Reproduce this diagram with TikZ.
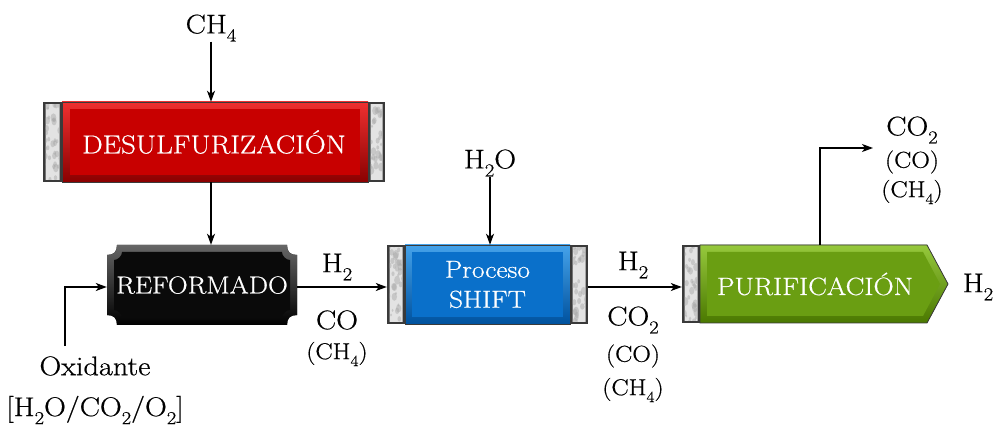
\documentclass[tikz,border=0pt]{standalone}
\usepackage{fontspec}
\setmainfont{Latin Modern Roman}[FakeBold=0.6,FakeStretch=1.12]
\usetikzlibrary{arrows.meta,backgrounds,calc}
\newcommand\sbs[1]{\raisebox{-0.3em}{\scalebox{0.68}{#1}}}
\definecolor{redL}{HTML}{EE3030}
\definecolor{redD}{HTML}{8A0000}
\definecolor{redB}{HTML}{C80000}
\definecolor{bluL}{HTML}{45A2EA}
\definecolor{bluD}{HTML}{00529E}
\definecolor{bluB}{HTML}{0A70CA}
\definecolor{grnL}{HTML}{96C83C}
\definecolor{grnD}{HTML}{4A7800}
\definecolor{grnB}{HTML}{6A9E12}
\definecolor{edge}{HTML}{3A3A3A}
\newcommand\capbox[4]{%
  \fill[edge] (#1,#2) rectangle (#3,#4);
  \begin{scope}
    \clip (#1+2.5,#2+2.5) rectangle (#3-2.5,#4-2.5);
    \fill[gray!22] (#1,#2) rectangle (#3,#4);
    \foreach \k in {1,...,40}{%
      \pgfmathsetmacro\px{#1+rnd*(#3-#1)}%
      \pgfmathsetmacro\py{#2+rnd*(#4-#2)}%
      \pgfmathsetmacro\pr{1+2*rnd}%
      \fill[gray!70,opacity=0.45] (\px,\py) ellipse ({\pr} and {1.5*\pr});
    }
  \end{scope}
}
\begin{document}
\begin{tikzpicture}[x=1pt,y=-1pt,
  lbl/.style={font=\fontsize{27}{31}\selectfont, inner sep=0pt},
  slbl/.style={font=\fontsize{23}{27}\selectfont, inner sep=0pt},
  boxtxt/.style={font=\fontsize{24.5}{30}\selectfont, text=white, inner sep=0pt, align=center},
  flow/.style={line width=1.3pt, -{Stealth[length=11pt,width=8pt,inset=3pt]}},
  rim/.style={draw=edge, line width=0.8pt}
]
\pgfmathsetseed{11}
\useasboundingbox (0,0) rectangle (998,427);

% process blocks
\node[boxtxt, font=\fontsize{26}{30}\selectfont, minimum width=342pt, minimum height=80pt] (desul) at (214,142) {DESULFURIZACIÓN};
\node[boxtxt, minimum width=190pt, minimum height=80pt] (reform) at (202,285) {REFORMADO};
\node[boxtxt, minimum width=201pt, minimum height=79pt] (shift) at (487.5,284.5) {Proceso\\SHIFT};
\node[boxtxt, font=\fontsize{25}{30}\selectfont, minimum width=266pt, minimum height=78pt] (purif) at (815,284) {PURIFICACIÓN};

\begin{scope}[on background layer]
  % desulfurizacion
  \fill[top color=redL, bottom color=redD] (62,102) rectangle (368,182);
  \fill[redB] (70,109) rectangle (360,175);
  \draw[rim] (62,102) rectangle (368,182);
  \capbox{43}{102}{62}{182}
  \capbox{368}{102}{385}{182}
  % reformado
  \fill[top color=black!60, bottom color=black] (117,245) -- (287,245) .. controls (287,252) and (290,255) .. (297,255) -- (297,315) .. controls (290,315) and (287,318) .. (287,325) -- (117,325) .. controls (117,318) and (114,315) .. (107,315) -- (107,255) .. controls (114,255) and (117,252) .. (117,245) -- cycle;
  \fill[black!96] (122,252) -- (282,252) .. controls (282,256) and (286,260) .. (290,260) -- (290,310) .. controls (286,310) and (282,314) .. (282,318) -- (122,318) .. controls (122,314) and (118,310) .. (114,310) -- (114,260) .. controls (118,260) and (122,256) .. (122,252) -- cycle;
  % shift
  \fill[top color=bluL, bottom color=bluD] (405,245) rectangle (570,324);
  \fill[bluB] (412,252) rectangle (563,317);
  \draw[rim] (405,245) rectangle (570,324);
  \capbox{387}{245}{405}{324}
  \capbox{570}{245}{588}{324}
  % purificacion
  \fill[top color=grnL, bottom color=grnD] (700,245) -- (927,245) -- (948,284) -- (927,323) -- (700,323) -- cycle;
  \fill[grnB] (707,252) -- (923,252) -- (940,284) -- (923,316) -- (707,316) -- cycle;
  \draw[rim] (700,245) -- (927,245) -- (948,284) -- (927,323) -- (700,323) -- cycle;
  \capbox{682}{245}{700}{323}
\end{scope}

% feeds
\node[lbl] (ch4) at (211,28) {CH\sbs{4}};
\draw[flow] (ch4) -- (ch4 |- desul.north);
\draw[flow] (desul.south -| ch4) -- (reform.north -| ch4);

\node[lbl] (h2o) at (490,163) {H\sbs{2}O};
\draw[flow] (h2o) -- (h2o |- shift.north);

\node[lbl] (oxid) at (95,366) {Oxidante};
\node[lbl] (oxmix) at (95,410) {[H\sbs{2}O/CO\sbs{2}/O\sbs{2}]};
\draw[flow] ([xshift=-30pt,yshift=10pt]oxid.north) |- ([yshift=-2pt]reform.west);

% reformado -> shift
\draw[flow] ([yshift=-2pt]reform.east) -- ([yshift=-2pt]reform.east -| shift.west);
\node[lbl] (h2a) at (337,267) {H\sbs{2}};
\node[lbl] (coa) at (337,320) {CO};
\node[slbl] (ch4a) at (337,354) {(CH\sbs{4})};

% shift -> purificacion
\draw[flow] ([yshift=-2.5pt]shift.east) -- ([yshift=-2.5pt]shift.east -| purif.west);
\node[lbl] (h2b) at (633,265) {H\sbs{2}};
\node[lbl] (co2b) at (633,320) {CO\sbs{2}};
\node[slbl] (cob) at (633,356) {(CO)};
\node[slbl] (ch4b) at (633,390) {(CH\sbs{4})};

% outputs
\node[lbl] (h2out) at (978,287) {H\sbs{2}};
\coordinate (topend) at (873,148);
\draw[flow] ([xshift=5pt]purif.north) |- (topend);
\node[lbl] (co2c) at (912,130) {CO\sbs{2}};
\node[slbl] (coc) at (912,162) {(CO)};
\node[slbl] (ch4c) at (912,192) {(CH\sbs{4})};
\end{tikzpicture}
\end{document}
